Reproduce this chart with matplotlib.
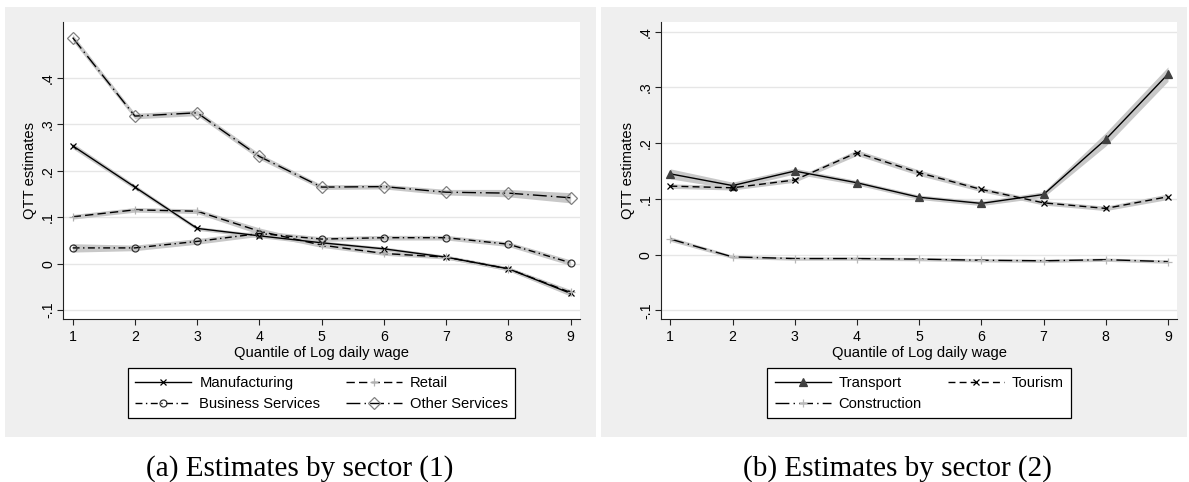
import matplotlib
matplotlib.use("Agg")
import matplotlib.pyplot as plt
from matplotlib.patches import Rectangle

# ---------------- data ----------------
quantiles = [1, 2, 3, 4, 5, 6, 7, 8, 9]

manufacturing = [0.254, 0.165, 0.076, 0.060, 0.045, 0.032, 0.014, -0.011, -0.064]
manufacturing_ci = [0.006, 0.005, 0.004, 0.004, 0.004, 0.004, 0.004, 0.004, 0.006]
retail = [0.101, 0.116, 0.113, 0.070, 0.040, 0.022, 0.014, -0.011, -0.062]
retail_ci = [0.005, 0.005, 0.005, 0.007, 0.005, 0.004, 0.004, 0.004, 0.006]
business = [0.034, 0.034, 0.048, 0.065, 0.053, 0.056, 0.056, 0.042, 0.002]
business_ci = [0.009, 0.006, 0.006, 0.006, 0.005, 0.005, 0.005, 0.005, 0.006]
other = [0.487, 0.318, 0.325, 0.231, 0.165, 0.166, 0.154, 0.152, 0.142]
other_ci = [0.007, 0.006, 0.006, 0.006, 0.005, 0.005, 0.006, 0.008, 0.011]

transport = [0.145, 0.124, 0.150, 0.129, 0.103, 0.092, 0.108, 0.207, 0.324]
transport_ci = [0.009, 0.006, 0.005, 0.004, 0.004, 0.004, 0.005, 0.012, 0.013]
tourism = [0.123, 0.120, 0.134, 0.183, 0.147, 0.117, 0.093, 0.083, 0.104]
tourism_ci = [0.004, 0.004, 0.004, 0.005, 0.005, 0.004, 0.004, 0.004, 0.005]
construction = [0.028, -0.004, -0.007, -0.007, -0.008, -0.010, -0.011, -0.009, -0.0125]
construction_ci = [0.004, 0.003, 0.003, 0.003, 0.003, 0.003, 0.003, 0.003, 0.003]

yticks = [-0.1, 0.0, 0.1, 0.2, 0.3, 0.4]
ytick_labels = ["-.1", "0", ".1", ".2", ".3", ".4"]
xlabel = "Quantile of Log daily wage"
ylabel = "QTT estimates"
captions = ["(a) Estimates by sector (1)", "(b) Estimates by sector (2)"]

# ---------------- figure ----------------
W, H = 1189, 482
plt.rcParams['font.family'] = ['Liberation Sans', 'DejaVu Sans']
fig = plt.figure(figsize=(W / 100, H / 100), dpi=100)

BG = "#efefef"
BAND = "#c8c8c8"

def px_rect(x0, y0, x1, y1):
    return [x0 / W, 1 - y1 / H, (x1 - x0) / W, (y1 - y0) / H]

# gray graph regions
for (x0, x1) in [(5, 596), (601, 1187)]:
    fig.patches.append(Rectangle((x0 / W, 1 - 437 / H), (x1 - x0) / W, (437 - 7) / H,
                                 transform=fig.transFigure, facecolor=BG,
                                 edgecolor="none", zorder=-5))

axL = fig.add_axes(px_rect(63.3, 22.3, 580, 319.3))
axR = fig.add_axes(px_rect(661, 22.3, 1177.3, 319.3))

def style_axes(ax, ylim):
    ax.set_facecolor("white")
    ax.set_xlim(0.85, 9.15)
    ax.set_ylim(*ylim)
    for s in ["top", "right"]:
        ax.spines[s].set_visible(False)
    for s in ["left", "bottom"]:
        ax.spines[s].set_color("#222222")
        ax.spines[s].set_linewidth(0.8)
    ax.set_xticks(quantiles)
    ax.set_xticklabels([str(q) for q in quantiles])
    ax.set_yticks(yticks)
    ax.set_yticklabels(ytick_labels, rotation=90, va="center")
    ax.tick_params(axis="both", length=4.3, width=0.8, color="#222222",
                   labelsize=10.2)
    ax.tick_params(axis="x", pad=3.5)
    ax.tick_params(axis="y", pad=1.5)
    ax.grid(axis="y", color="#e6e6e6", linewidth=1.0)
    ax.set_axisbelow(True)
    ax.set_xlabel(xlabel, fontsize=10.6, labelpad=1.5)
    ax.set_ylabel(ylabel, fontsize=10.6, labelpad=3)

style_axes(axL, (-0.1198, 0.520))
style_axes(axR, (-0.116, 0.417))

def series(ax, y, ci, ls, marker, mfc, mec, ms, label, mew=0.9):
    lo = [a - b for a, b in zip(y, ci)]
    hi = [a + b for a, b in zip(y, ci)]
    ax.fill_between(quantiles, lo, hi, color=BAND, linewidth=0, zorder=2)
    line, = ax.plot(quantiles, y, color="black", linestyle=ls, linewidth=1.0,
                    marker=marker, markerfacecolor=mfc, markeredgecolor=mec,
                    markersize=ms, markeredgewidth=mew, label=label, zorder=3)
    return line

hM = series(axL, manufacturing, manufacturing_ci, "-", "x", "black", "black", 4.5, "Manufacturing")
hR = series(axL, retail, retail_ci, (0, (6, 3)), "+", "#b0b0b0", "#b0b0b0", 6, "Retail")
hB = series(axL, business, business_ci, (0, (5, 2.5, 1, 2.5)), "o", "none", "#333333", 5, "Business Services")
hO = series(axL, other, other_ci, (0, (10, 3, 1, 3)), "D", "none", "#808080", 6, "Other Services")

hT = series(axR, transport, transport_ci, "-", "^", "#404040", "#404040", 6, "Transport")
hTo = series(axR, tourism, tourism_ci, (0, (5, 3)), "x", "black", "black", 4.5, "Tourism")
hC = series(axR, construction, construction_ci, (0, (10, 3, 1, 3)), "+", "#b8b8b8", "#b8b8b8", 6, "Construction")

def legend(ax, handles):
    leg = ax.legend(handles=handles, loc="upper center", bbox_to_anchor=(0.5, -0.165), ncol=2,
                    fontsize=10.6, frameon=True, fancybox=False, shadow=False,
                    edgecolor="black", framealpha=1, numpoints=1,
                    handlelength=3.8, handletextpad=0.55, columnspacing=1.75,
                    borderpad=0.5, labelspacing=0.5, borderaxespad=0)
    leg.get_frame().set_linewidth(0.9)
    return leg

# column-major fill -> row-major appearance
legend(axL, [hM, hB, hR, hO])
legend(axR, [hT, hC, hTo])

for cx, txt in zip([300, 897], captions):
    fig.text(cx / W, 6.3 / H, txt, ha="center", va="baseline", fontsize=21,
             family=["Liberation Serif", "DejaVu Serif"])

fig.savefig("out.png", dpi=100)
